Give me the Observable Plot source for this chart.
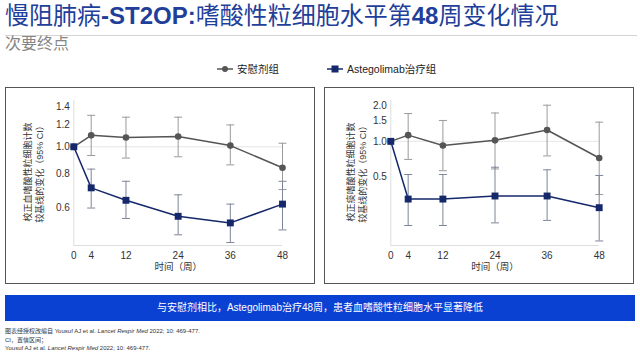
<!DOCTYPE html>
<html><head><meta charset="utf-8">
<script src="https://cdn.jsdelivr.net/npm/d3@7"></script>
<script src="https://cdn.jsdelivr.net/npm/@observablehq/plot@0.6"></script>
<style>
body{margin:0;width:640px;height:354px;position:relative;overflow:hidden;background:#fff;font-family:"Liberation Sans",Arial,"Noto Sans CJK SC",sans-serif;}
.abs{position:absolute;white-space:nowrap;}
#title{left:5px;top:1px;font-size:24px;color:#1f3f9a;line-height:30px;}
#rule{left:5px;top:35px;width:632px;height:1px;background:#d4d4d4;}
#sub{left:5px;top:35px;font-size:16px;color:#858585;line-height:18px;}
.leg{top:62px;font-size:10.5px;color:#222;line-height:14px;display:flex;align-items:center;}
.leg svg{margin-right:4px;}
.panel{width:310px;height:197px;}
.frame{width:310px;height:197px;box-sizing:border-box;border:1.5px solid #555;pointer-events:none;}
.ytitle{font-size:9px;line-height:12px;color:#333;text-align:center;transform:translate(-50%,-50%) rotate(-90deg);}
#banner{left:5px;top:295px;width:630px;height:26px;background:#0b41d3;color:#fff;font-size:10px;line-height:26px;text-align:center;}
#foot{left:5px;top:327px;font-size:6px;line-height:8.7px;color:#333;}
</style></head>
<body>
<div id="title" class="abs">慢阻肺病<b>-ST2OP:</b>嗜酸性粒细胞水平第<b>48</b>周变化情况</div>
<div id="rule" class="abs"></div>
<div id="sub" class="abs">次要终点</div>
<div class="abs leg" style="left:217px"><svg width="16" height="8"><line x1="0" y1="4" x2="16" y2="4" stroke="#555" stroke-width="1.5"/><circle cx="8" cy="4" r="3" fill="#555"/></svg><span id="legA"></span></div>
<div class="abs leg" style="left:327px"><svg width="16" height="8"><line x1="0" y1="4" x2="16" y2="4" stroke="#14286b" stroke-width="1.5"/><rect x="4.5" y="0.5" width="7" height="7" fill="#14286b"/></svg><span id="legB"></span></div>
<div id="p1" class="abs panel" style="left:5px;top:87px"></div>
<div id="p2" class="abs panel" style="left:324px;top:87px"></div>
<div class="abs frame" style="left:5px;top:87px"></div>
<div class="abs frame" style="left:324px;top:87px"></div>
<div id="yt1" class="abs ytitle" style="left:34px;top:172px"></div>
<div id="yt2" class="abs ytitle" style="left:356.5px;top:172px"></div>
<div id="banner" class="abs">与安慰剂相比，Astegolimab治疗48周，患者血嗜酸性粒细胞水平显著降低</div>
<div id="foot" class="abs">图表经授权改编自 Yousuf AJ et al. <i>Lancet Respir Med</i> 2022; 10: 469-477.<br>CI，置信区间；<br>Yousuf AJ et al. <i>Lancet Respir Med</i> 2022; 10: 469-477.</div>
<script>
// ---- data ----
const seriesNames = ["安慰剂组", "Astegolimab治疗组"];
const weeks = [0, 4, 12, 24, 36, 48];
// blood eosinophils (ratio to baseline)
const bloodPlacebo   = [1.00, 1.10, 1.08, 1.09, 1.01, 0.84];
const bloodPlaceboLo = [1.00, 0.93, 0.91, 0.92, 0.86, 0.70];
const bloodPlaceboHi = [1.00, 1.30, 1.28, 1.28, 1.20, 1.03];
const bloodAsteg     = [1.00, 0.71, 0.64, 0.56, 0.53, 0.62];
const bloodAstegLo   = [1.00, 0.60, 0.55, 0.48, 0.45, 0.50];
const bloodAstegHi   = [1.00, 0.83, 0.75, 0.67, 0.62, 0.75];
// sputum eosinophils (ratio to baseline)
const sputumPlacebo   = [1.00, 1.13, 0.92, 1.02, 1.25, 0.72];
const sputumPlaceboLo = [1.00, 0.70, 0.56, 0.58, 0.75, 0.35];
const sputumPlaceboHi = [1.00, 1.73, 1.51, 1.75, 2.04, 1.46];
const sputumAsteg     = [1.00, 0.32, 0.32, 0.34, 0.34, 0.27];
const sputumAstegLo   = [1.00, 0.19, 0.19, 0.20, 0.21, 0.14];
const sputumAstegHi   = [1.00, 0.52, 0.52, 0.60, 0.57, 0.51];
const bloodTicks = [0.6, 0.8, 1.0, 1.2, 1.4];
const sputumTicks = [0.5, 1.0, 1.5, 2.0];
const bloodTitle = ["校正血嗜酸性粒细胞计数", "较基线的变化（95% CI）"];
const sputumTitle = ["校正痰嗜酸性粒细胞计数", "较基线的变化（95% CI）"];
const xTitle = "时间（周）";

document.getElementById("legA").textContent = seriesNames[0];
document.getElementById("legB").textContent = seriesNames[1];
document.getElementById("yt1").innerHTML = bloodTitle.join("<br>");
document.getElementById("yt2").innerHTML = sputumTitle.join("<br>");

const rows = (v, lo, hi) => weeks.map((w, i) => ({week: w, value: v[i], lo: lo[i], hi: hi[i]}));
const cap = {draw(ctx) { ctx.moveTo(-4, 0); ctx.lineTo(4, 0); }};
const cPlacebo = "#555555", cAsteg = "#14286b", cErrP = "#9a9a9a", cErrA = "#7d8598";

function panel({placebo, asteg, domain, ticks, marginLeft, marginRight}) {
  const errs = (data, c) => [
    Plot.ruleX(data.slice(1), {x: "week", y1: "lo", y2: "hi", stroke: c, strokeWidth: 1}),
    Plot.dot(data.slice(1), {x: "week", y: "lo", symbol: cap, stroke: c, fill: "none", strokeWidth: 1}),
    Plot.dot(data.slice(1), {x: "week", y: "hi", symbol: cap, stroke: c, fill: "none", strokeWidth: 1})
  ];
  return Plot.plot({
    width: 310, height: 197,
    marginLeft, marginRight, marginTop: 13, marginBottom: 39,
    x: {domain: [0, 48]},
    y: {type: "log", domain},
    style: {fontSize: "10px", fontFamily: '"Liberation Sans", Arial, "Noto Sans CJK SC", sans-serif', color: "#333", background: "transparent", overflow: "visible"},
    marks: [
      Plot.ruleY([1], {stroke: "#e6e6e6"}),
      Plot.ruleX([0], {stroke: "#dddddd"}),
      Plot.ruleY([domain[0]], {stroke: "#dddddd"}),
      ...errs(placebo, cErrP),
      ...errs(asteg, cErrA),
      Plot.line(placebo, {x: "week", y: "value", stroke: cPlacebo, strokeWidth: 1.5}),
      Plot.line(asteg, {x: "week", y: "value", stroke: cAsteg, strokeWidth: 1.5}),
      Plot.dot(placebo, {x: "week", y: "value", r: 3.3, fill: cPlacebo}),
      Plot.dot(asteg, {x: "week", y: "value", r: 3.9, symbol: "square", fill: cAsteg}),
      Plot.axisY({ticks, tickSize: 0, tickPadding: 4, tickFormat: d => d.toFixed(1), label: null, fill: "#333"}),
      Plot.axisX({ticks: weeks, tickSize: 0, tickPadding: 6, label: null, fill: "#333"}),
      Plot.text([xTitle], {text: d => d, frameAnchor: "bottom", dy: 18, lineAnchor: "top", textAnchor: "middle", fontSize: 9.5, fill: "#333"})
    ]
  });
}

document.getElementById("p1").append(panel({
  placebo: rows(bloodPlacebo, bloodPlaceboLo, bloodPlaceboHi),
  asteg: rows(bloodAsteg, bloodAstegLo, bloodAstegHi),
  domain: [0.439, 1.471], ticks: bloodTicks,
  marginLeft: 68.3, marginRight: 33
}));
document.getElementById("p2").append(panel({
  placebo: rows(sputumPlacebo, sputumPlaceboLo, sputumPlaceboHi),
  asteg: rows(sputumAsteg, sputumAstegLo, sputumAstegHi),
  domain: [0.128, 2.239], ticks: sputumTicks,
  marginLeft: 66.3, marginRight: 35.3
}));
</script>
</body></html>
